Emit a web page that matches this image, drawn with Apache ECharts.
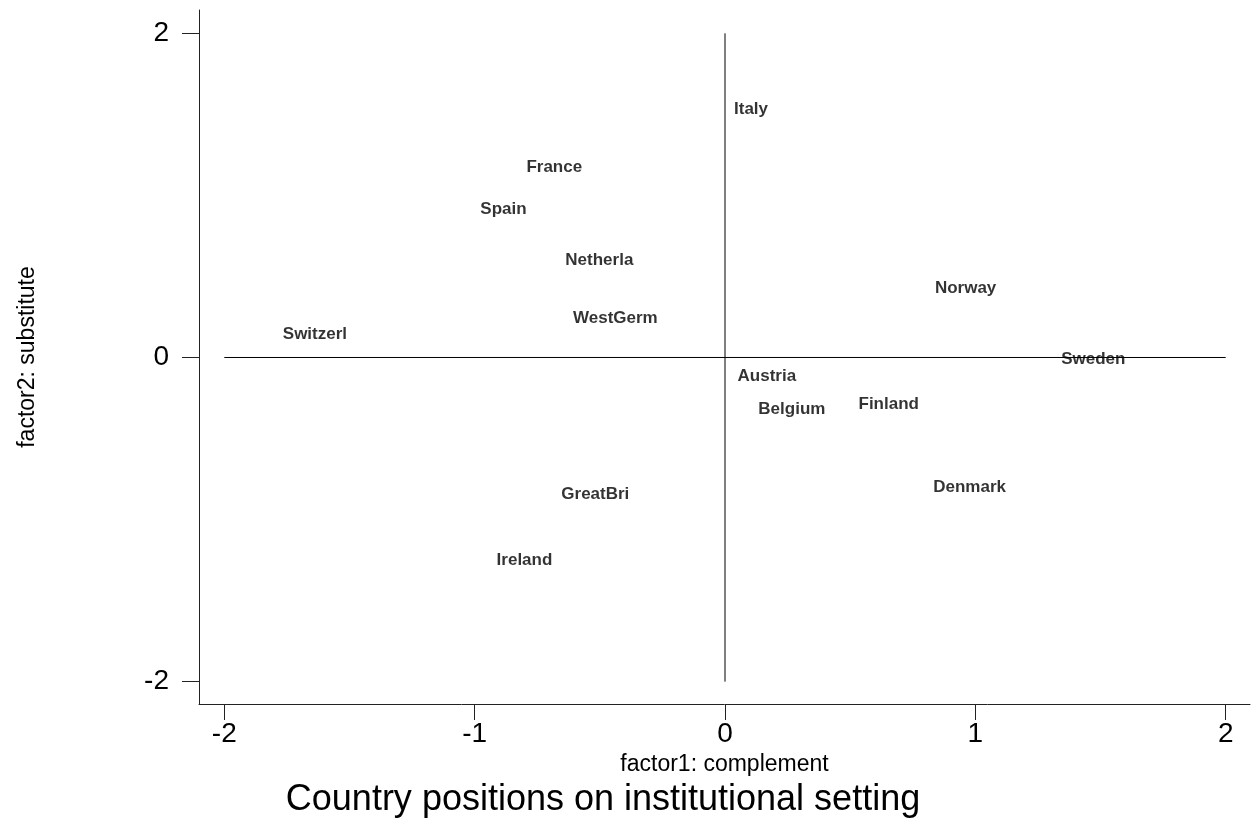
<!DOCTYPE html>
<html><head><meta charset="utf-8">
<script src="https://cdn.jsdelivr.net/npm/echarts@6/dist/echarts.min.js"></script>
<style>html,body{margin:0;padding:0;background:#fff}#c{width:1252px;height:823px}</style>
</head><body><div id="c"></div>
<script>
const countries = ["Italy","France","Spain","Netherla","WestGerm","Switzerl","Norway","Sweden","Austria","Belgium","Finland","Denmark","GreatBri","Ireland"];
const factor1 = [0.104,-0.682,-0.885,-0.502,-0.438,-1.638,0.961,1.471,0.167,0.267,0.654,0.977,-0.518,-0.801];
const factor2 = [1.533,1.175,0.916,0.601,0.243,0.145,0.429,-0.009,-0.114,-0.318,-0.287,-0.799,-0.842,-1.249];
const xTickValues = [-2,-1,0,1,2];
const yTickValues = [-2,0,2];
const refV = [[0,-2],[0,2]];
const refH = [[-2,0],[2,0]];

const F = "'Liberation Sans', Arial, Helvetica, sans-serif";
const chart = echarts.init(document.getElementById('c'));
chart.setOption({
  animation:false,
  backgroundColor:'#fff',
  title:{text:'Country positions on institutional setting',left:598,top:777,textAlign:'center',
    textStyle:{fontFamily:F,fontSize:36,fontWeight:'normal',color:'#000'}},
  grid:{left:199,top:10,right:2,bottom:119,containLabel:false},
  xAxis:{type:'value',min:-2.101,max:2.097,
    name:'factor1: complement',nameLocation:'middle',nameGap:44,
    nameTextStyle:{fontFamily:F,fontSize:23,color:'#000'},
    axisLine:{show:true,onZero:false,lineStyle:{color:'#222',width:1}},
    axisTick:{show:true,length:16,customValues:xTickValues,lineStyle:{color:'#222'}},
    axisLabel:{customValues:xTickValues,margin:16,fontFamily:F,fontSize:28,color:'#000'},
    splitLine:{show:false}},
  yAxis:{type:'value',min:-2.138,max:2.144,
    name:'factor2: substitute',nameLocation:'middle',nameGap:160,nameRotate:90,
    nameTextStyle:{fontFamily:F,fontSize:23,color:'#000'},
    axisLine:{show:true,onZero:false,lineStyle:{color:'#222',width:1}},
    axisTick:{show:true,length:17,customValues:yTickValues,lineStyle:{color:'#222'}},
    axisLabel:{customValues:yTickValues,margin:30,fontFamily:F,fontSize:28,color:'#000'},
    splitLine:{show:false}},
  series:[
    {type:'line',data:refV,symbol:'none',lineStyle:{color:'#000',width:1},silent:true},
    {type:'line',data:refH,symbol:'none',lineStyle:{color:'#000',width:1},silent:true},
    {type:'scatter',symbolSize:1,itemStyle:{color:'rgba(0,0,0,0)'},
     data:countries.map((n,i)=>({name:n,value:[factor1[i],factor2[i]]})),
     label:{show:true,position:'inside',formatter:p=>p.name,fontFamily:F,fontSize:17,
       fontWeight:'bold',color:'#000',textBorderWidth:0}}
  ]
});
</script></body></html>
